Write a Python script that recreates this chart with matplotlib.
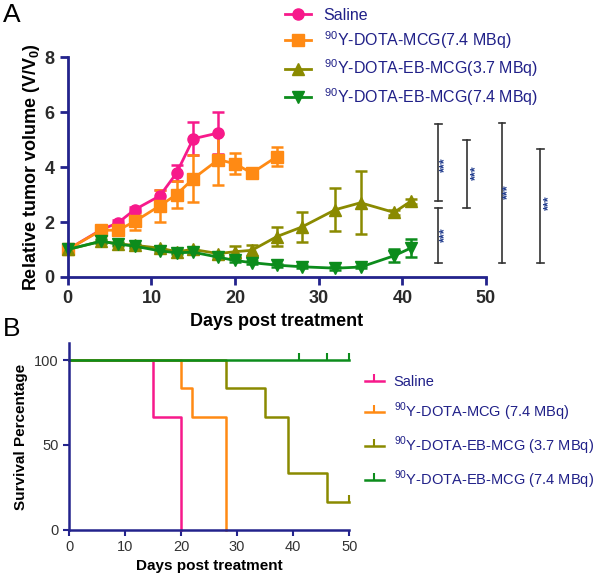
import matplotlib
matplotlib.use("Agg")
import matplotlib.pyplot as plt
from matplotlib.lines import Line2D
import numpy as np

plt.rcParams['font.family'] = ['Liberation Sans', 'DejaVu Sans']
plt.rcParams['mathtext.fontset'] = 'custom'
plt.rcParams['mathtext.rm'] = 'Liberation Sans'
plt.rcParams['mathtext.bf'] = 'Liberation Sans:bold'

# ---- panel A: relative tumor volume (mean, sem) ----
days_saline = [0, 4, 6, 8, 11, 13, 15, 18]
vol_saline = [1.0, 1.72, 1.97, 2.45, 2.95, 3.78, 5.03, 5.24]
sem_saline = [0.0, 0.08, 0.1, 0.1, 0.2, 0.3, 0.6, 0.78]

days_mcg = [0, 4, 6, 8, 11, 13, 15, 18, 20, 22, 25]
vol_mcg = [1.0, 1.7, 1.7, 2.02, 2.59, 3.0, 3.58, 4.27, 4.12, 3.78, 4.38]
sem_mcg = [0.0, 0.08, 0.1, 0.3, 0.59, 0.5, 0.85, 0.94, 0.38, 0.1, 0.36]

days_eb = [0, 4, 6, 8, 11, 13, 15, 18, 20, 22, 25, 28, 32, 35, 39, 41]
vol_eb37 = [1.0, 1.3, 1.2, 1.15, 1.05, 0.92, 1.0, 0.85, 0.92, 0.97, 1.47, 1.82, 2.45, 2.7, 2.35, 2.75]
sem_eb37 = [0.0, 0.08, 0.06, 0.06, 0.06, 0.06, 0.06, 0.06, 0.2, 0.2, 0.35, 0.55, 0.77, 1.15, 0.08, 0.08]
vol_eb74 = [1.0, 1.3, 1.2, 1.12, 0.95, 0.88, 0.9, 0.72, 0.6, 0.52, 0.43, 0.37, 0.32, 0.36, 0.77, 1.05]
sem_eb74 = [0.0, 0.05, 0.05, 0.05, 0.05, 0.05, 0.05, 0.05, 0.05, 0.05, 0.05, 0.05, 0.05, 0.05, 0.24, 0.32]

# significance brackets (x in days, y bottom/top) and star positions
brk_x = [44.3, 44.3, 47.7, 51.9, 56.5]
brk_lo = [2.76, 0.5, 2.5, 0.5, 0.5]
brk_hi = [5.56, 2.5, 5.0, 5.6, 4.65]
star_x = [45.1, 45.1, 48.8, 52.6, 57.5]
star_y = [4.1, 1.55, 3.8, 3.1, 2.7]

# ---- panel B: survival ----
surv_saline_t = [0, 15, 20]
surv_saline = [100, 66.7, 0]
surv_mcg_t = [0, 20, 22, 28]
surv_mcg = [100, 83.3, 66.7, 0]
surv_eb37_t = [0, 28, 35, 39, 46, 50]
surv_eb37 = [100, 83.3, 66.7, 33.3, 16.7, 16.7]
surv_eb74_t = [0, 50]
surv_eb74 = [100, 100]
cens_eb37_t = [50]
cens_eb37 = [16.7]
cens_eb74_t = [41, 46, 50]
cens_eb74 = [100, 100, 100]

pink = '#F7198B'
orange = '#FF8A14'
olive = '#8A8A00'
green = '#0C8C1C'
navy = '#23238C'
txt_navy = '#202088'

labels_a = ['Saline', r'$^{90}$Y-DOTA-MCG(7.4 MBq)',
            r'$^{90}$Y-DOTA-EB-MCG(3.7 MBq)', r'$^{90}$Y-DOTA-EB-MCG(7.4 MBq)']
labels_b = ['Saline', r'$^{90}$Y-DOTA-MCG (7.4 MBq)',
            r'$^{90}$Y-DOTA-EB-MCG (3.7 MBq)', r'$^{90}$Y-DOTA-EB-MCG (7.4 MBq)']

fig = plt.figure(figsize=(6, 5.77), dpi=100)

# ================= A =================
ax = fig.add_axes([0.113, 0.52, 0.697, 0.381])
series = [(days_saline, vol_saline, sem_saline, pink, 'o'),
          (days_mcg, vol_mcg, sem_mcg, orange, 's'),
          (days_eb, vol_eb37, sem_eb37, olive, '^'),
          (days_eb, vol_eb74, sem_eb74, green, 'v')]
handles = []
for (d, v, e, c, m), lab in zip(series, labels_a):
    ax.errorbar(d, v, yerr=e, color=c, marker=m, markersize=8, lw=2,
                elinewidth=1.8, capsize=4, capthick=1.8, clip_on=False)
    handles.append(Line2D([], [], color=c, marker=m, markersize=8, lw=2, label=lab))

for x, lo, hi in zip(brk_x, brk_lo, brk_hi):
    ax.plot([x, x], [lo, hi], color='#333333', lw=1.2, clip_on=False)
    for yy in (lo, hi):
        ax.plot([x - 0.4, x + 0.4], [yy, yy], color='#333333', lw=1.2, clip_on=False)
for x, y in zip(star_x, star_y):
    ax.text(x, y, '***', rotation=90, fontsize=9, color='#1F3A8C',
            ha='center', va='center', fontweight='bold', clip_on=False)

ax.set_xlim(0, 50)
ax.set_ylim(0, 8)
ax.set_xticks([0, 10, 20, 30, 40, 50])
ax.set_yticks([0, 2, 4, 6, 8])
for s in ['top', 'right']:
    ax.spines[s].set_visible(False)
for s in ['left', 'bottom']:
    ax.spines[s].set_color(navy)
    ax.spines[s].set_linewidth(2)
ax.tick_params(colors=navy, width=2, length=6, labelsize=13, labelcolor='#2a2a2a')
for t in ax.get_xticklabels() + ax.get_yticklabels():
    t.set_fontweight('bold')
ax.set_xlabel('Days post treatment', fontsize=13, fontweight='bold', labelpad=4)
ax.set_ylabel(r'Relative tumor volume (V/V$_\mathbf{0}$)', fontsize=13,
              fontweight='bold', labelpad=2)
ax.legend(handles=handles, loc='upper left', bbox_to_anchor=(0.465, 0.998),
          bbox_transform=fig.transFigure, frameon=False, fontsize=11.5,
          labelcolor=txt_navy, handlelength=1.6, handletextpad=0.8,
          labelspacing=0.42, borderaxespad=0)
fig.text(0.005, 0.995, 'A', fontsize=19, va='top', ha='left')

# ================= B =================
bx = fig.add_axes([0.115, 0.0815, 0.467, 0.324])
surv = [(surv_saline_t, surv_saline, pink, None, None),
        (surv_mcg_t, surv_mcg, orange, None, None),
        (surv_eb37_t, surv_eb37, olive, cens_eb37_t, cens_eb37),
        (surv_eb74_t, surv_eb74, green, cens_eb74_t, cens_eb74)]
for (t, s, c, ct, cs), lab in zip(surv, labels_b):
    bx.step(t, s, where='post', color=c, lw=1.8, clip_on=False)
    if ct is not None:
        bx.plot(ct, cs, linestyle='none', marker=2, markersize=5, mew=1.5,
                color=c, clip_on=False)
    bx.plot([], [], color=c, lw=1.8, marker=2, markersize=5, mew=1.5, label=lab)

bx.set_xlim(0, 50)
bx.set_ylim(0, 110)
bx.set_xticks([0, 10, 20, 30, 40, 50])
bx.set_yticks([0, 50, 100])
for s in ['top', 'right']:
    bx.spines[s].set_visible(False)
for s in ['left', 'bottom']:
    bx.spines[s].set_color(navy)
    bx.spines[s].set_linewidth(1.8)
bx.tick_params(colors=navy, width=1.5, length=4, labelsize=10.5, labelcolor='#333333')
bx.set_xlabel('Days post treatment', fontsize=11, fontweight='bold', labelpad=3)
bx.set_ylabel('Survival Percentage', fontsize=11, fontweight='bold', labelpad=4)
bx.legend(loc='upper left', bbox_to_anchor=(0.598, 0.36), bbox_transform=fig.transFigure,
          frameon=False, fontsize=10.5, labelcolor=txt_navy, handlelength=1.3,
          handletextpad=0.7, labelspacing=0.8, borderaxespad=0)
fig.text(0.005, 0.45, 'B', fontsize=19, va='top', ha='left')

fig.savefig('out.png', dpi=100)
